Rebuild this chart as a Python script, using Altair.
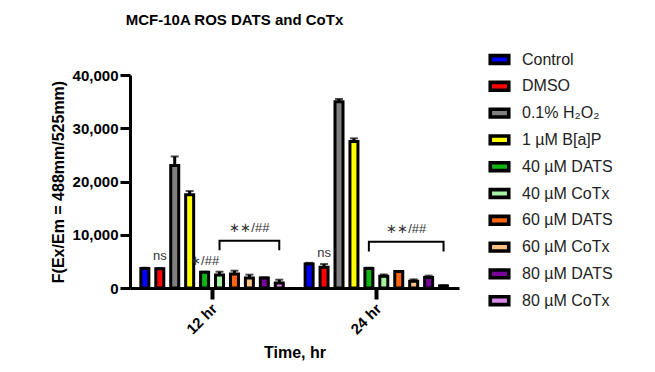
import altair as alt
import pandas as pd

treatments = ["Control", "DMSO", "0.1% H₂O₂", "1 µM B[a]P", "40 µM DATS",
              "40 µM CoTx", "60 µM DATS", "60 µM CoTx", "80 µM DATS", "80 µM CoTx"]
colors = ["#0000FF", "#FF0000", "#808080", "#FFFF00", "#11B511",
          "#A3F3A3", "#FF6610", "#FFC184", "#7A009C", "#D88AEA"]
times = ["12 hr", "24 hr"]
mean_12 = [3650, 3600, 23000, 17500, 2960, 2460, 2650, 1900, 1900, 960]
err_12 = [150, 150, 1700, 700, 100, 600, 600, 600, 100, 600]
mean_24 = [4520, 3900, 35000, 27500, 3660, 2200, 3100, 1270, 1970, 400]
err_24 = [200, 600, 500, 600, 150, 350, 100, 350, 350, 100]

# annotations: (time index, bar index, offset px, y value, text)
ann_time = [0, 0, 0, 1, 1]
ann_bar = [1, 4, 7, 1, 6.5]
ann_dx = [-1, 3.5, 0, 0, 0]
ann_y = [5175, 4370, 10425, 5810, 10310]
ann_text = ["ns", "∗/##", "∗∗/##", "ns", "∗∗/##"]
# brackets: (time index, first bar, last bar, low y, high y)
br_time = [0, 1]
br_first = [5, 4]
br_last = [9, 9]
br_low = [7100, 6860]
br_high = [8870, 8680]

gap = len(treatments) + 1
rows = []
for gi, (m, e) in enumerate([(mean_12, err_12), (mean_24, err_24)]):
    for ti, t in enumerate(treatments):
        rows.append({"pos": gi * gap + ti, "treatment": t, "mean": m[ti],
                     "top": m[ti] + e[ti], "time": times[gi]})
df = pd.DataFrame(rows)

centers = [gi * gap + (len(treatments) - 1) / 2 for gi in range(len(times))]
label_expr = " : ".join(
    [f"datum.value < {centers[i] + gap / 2} ? '{times[i]}'" for i in range(len(times) - 1)]
    + [f"'{times[-1]}'"])

ann_df = pd.DataFrame({"pos": [ann_time[i] * gap + ann_bar[i] for i in range(len(ann_text))],
                       "y": ann_y, "text": ann_text, "dx": ann_dx})
br_rows = []
for i in range(len(br_time)):
    a = br_time[i] * gap + br_first[i]
    b = br_time[i] * gap + br_last[i]
    for k, (px, py) in enumerate([(a, br_low[i]), (a, br_high[i]), (b, br_high[i]), (b, br_low[i])]):
        br_rows.append({"pos": px, "y": py, "g": i, "o": k})
br_df = pd.DataFrame(br_rows)

FONT = "Liberation Sans"
xscale = alt.Scale(domain=[-0.66, 20.7], nice=False, zero=False)
yscale = alt.Scale(domain=[0, 40000], nice=False)

x_axis = alt.Axis(values=centers, labelExpr=label_expr, title="Time, hr",
                  labelAngle=-45, labelFont=FONT, labelFontSize=15, labelFontWeight="bold",
                  labelColor="black", labelPadding=2, labelOffset=-3,
                  tickSize=11, tickWidth=4, tickColor="black",
                  domainWidth=3, domainColor="black", grid=False,
                  titleFont=FONT, titleFontSize=16, titleFontWeight="bold", titleColor="black",
                  titlePadding=8)
y_axis = alt.Axis(values=list(range(0, 40001, 5000)),
                  labelExpr="datum.value % 10000 === 0 ? format(datum.value, ',') : ''",
                  title="F(Ex/Em = 488mm/525mm)",
                  labelFont=FONT, labelFontSize=15, labelFontWeight="bold", labelColor="black",
                  labelPadding=2,
                  tickSize={"condition": {"test": "datum.value % 10000 === 0", "value": 10}, "value": 5.5},
                  tickWidth=3, tickColor="black", domainWidth=3, domainColor="black", grid=False,
                  titleFont=FONT, titleFontSize=16, titleFontWeight="bold", titleColor="black",
                  titlePadding=6)

base = alt.Chart(df)
bars = base.mark_bar(size=8, stroke="black", strokeWidth=3).encode(
    x=alt.X("pos:Q", scale=xscale, axis=x_axis),
    y=alt.Y("mean:Q", scale=yscale, axis=y_axis),
    fill=alt.Fill("treatment:N", scale=alt.Scale(domain=treatments, range=colors),
                  sort=treatments,
                  legend=alt.Legend(title=None, orient="none", legendX=358, legendY=-27,
                                    symbolType="M-1,-0.42H1V0.42H-1Z", symbolSize=342,
                                    symbolStrokeColor="black", symbolStrokeWidth=3.6,
                                    labelFont=FONT, labelFontSize=16, labelColor="#222",
                                    rowPadding=3.8, labelOffset=11, padding=0)),
)
stems = base.mark_rule(color="black", strokeWidth=3).encode(
    x="pos:Q", y="mean:Q", y2="top:Q")
caps = base.mark_tick(color="black", thickness=2, size=8, orient="horizontal").encode(
    x="pos:Q", y="top:Q")
texts = alt.Chart(ann_df).mark_text(font=FONT, fontSize=13, color="#333",
                                    baseline="alphabetic", align="center").encode(
    x="pos:Q", y="y:Q", text="text:N", xOffset=alt.XOffset("dx:Q", scale=None))
brackets = alt.Chart(br_df).mark_line(color="black", strokeWidth=2).encode(
    x="pos:Q", y="y:Q", detail="g:N", order="o:Q")

chart = alt.layer(bars, stems, caps, brackets, texts).properties(
    width=329, height=213,
    title=alt.Title("MCF-10A ROS DATS and CoTx", font=FONT, fontSize=15, fontWeight="bold",
                    color="black", dx=-60, offset=20, anchor="middle"),
    autosize=alt.AutoSizeParams(type="none"),
    padding={"left": 122, "top": 67, "right": 188, "bottom": 76},
).configure_view(stroke=None)

chart.save("out.html", embed_options={"renderer": "svg", "actions": False})
